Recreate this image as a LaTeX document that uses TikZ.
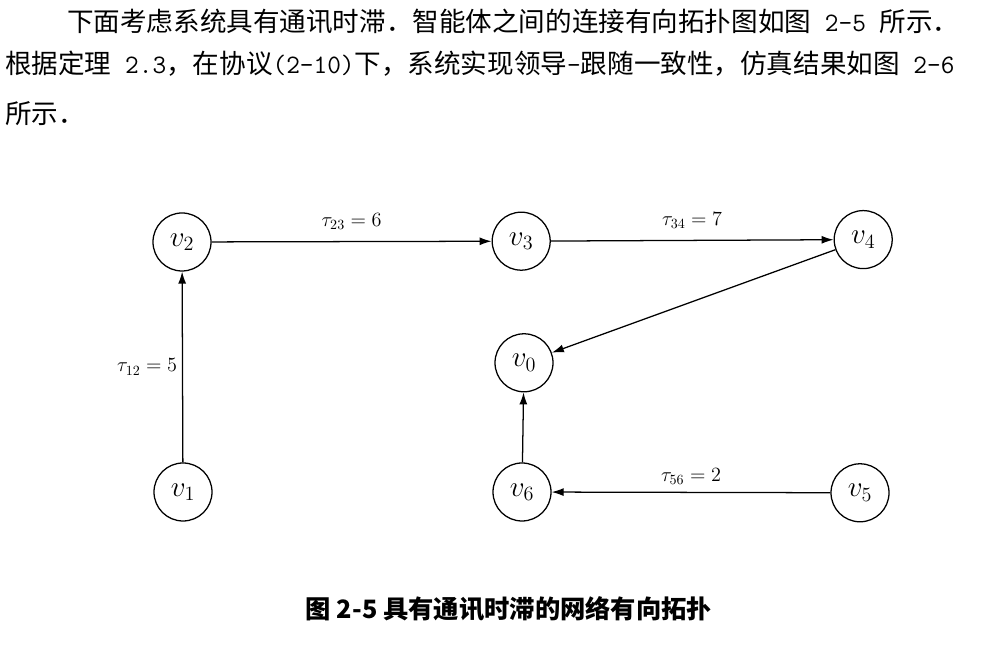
\documentclass[tikz,border=0pt]{standalone}
\usepackage{fontspec}
\newfontfamily\cjk{Noto Sans CJK SC}
\usetikzlibrary{arrows.meta}

\begin{document}
\begin{tikzpicture}[
        agente/.style={circle,draw,line width=0.9pt,minimum size=1.45cm,inner sep=0pt,font=\fontsize{21}{25}\selectfont},
        arco/.style={line width=0.9pt,-{Latex[length=0.3cm,width=0.2cm]}},
        ritardo/.style={font=\fontsize{14.3}{17}\selectfont},
        riga/.style={anchor=west,inner sep=0pt,font=\cjk\fontsize{18.9}{22}\selectfont}]
        \useasboundingbox (0,0) rectangle (25.025,16.55);
        %testo sopra la figura
        \node[riga] (riga1) at (1.675,16.0) {下面考虑系统具有通讯时滞．智能体之间的连接有向拓扑图如图{\ttfamily\ 2-5\ }所示．};
        \node[riga] (riga2) at (0.125,14.95) {根据定理{\ttfamily\ 2.3}，在协议{\ttfamily(2-10)}下，系统实现领导{\ttfamily-}跟随一致性，仿真结果如图{\ttfamily\ 2-6}};
        \node[riga] (riga3) at (0.125,13.7) {所示．};
        %disegno agenti
        \node[agente] (v2) at (4.55,10.5) {$v_2$};
        \node[agente] (v3) at (13.03,10.52) {$v_3$};
        \node[agente] (v4) at (21.58,10.56) {$v_4$};
        \node[agente] (v0) at (13.1,7.48) {$v_0$};
        \node[agente] (v1) at (4.575,4.25) {$v_1$};
        \node[agente] (v6) at (13.05,4.25) {$v_6$};
        \node[agente] (v5) at (21.5,4.23) {$v_5$};
        %disegno archi con ritardi
        \draw[arco] (v1) -- (v2) node[midway,left,ritardo]{$\tau_{12} = 5$};
        \draw[arco] (v2) -- (v3) node[midway,above=5pt,ritardo]{$\tau_{23} = 6$};
        \draw[arco] (v3) -- (v4) node[midway,above=5pt,ritardo]{$\tau_{34} = 7$};
        \draw[arco] (v4) -- (v0);
        \draw[arco] (v6) -- (v0);
        \draw[arco] (v5) -- (v6) node[midway,above=2pt,ritardo]{$\tau_{56} = 2$};
        %didascalia
        \node[font=\cjk\bfseries\fontsize{18}{21}\selectfont] (didascalia) at (12.725,1.325) {图 2-5 具有通讯时滞的网络有向拓扑};
\end{tikzpicture}
\end{document}
